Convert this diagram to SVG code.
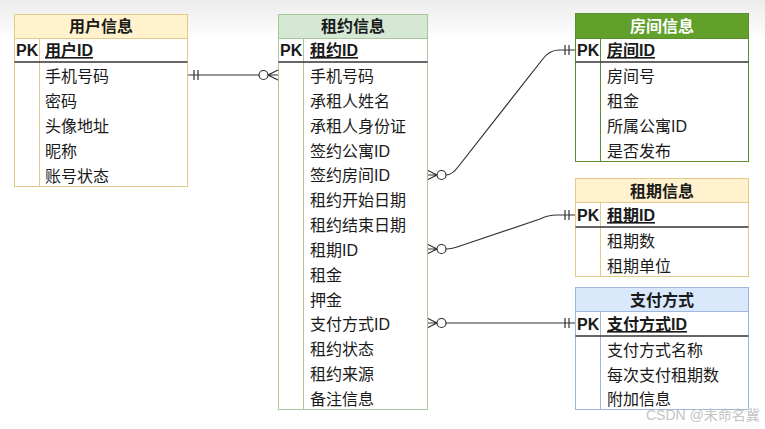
<svg xmlns="http://www.w3.org/2000/svg" xmlns:xlink="http://www.w3.org/1999/xlink" width="765" height="429" viewBox="0 0 765 429">
<style>
  .t { font-family: "Liberation Sans", "Noto Sans CJK SC", sans-serif; font-size: 16px; fill: #1a1a1a; }
  .h { font-weight: bold; text-anchor: middle; }
  .pk { font-weight: bold; }
  .u { font-weight: bold; text-decoration: underline; }
  .sep { stroke: #333; stroke-width: 1.5; }
  .conn { fill: none; stroke: #333; stroke-width: 1.2; }
  .wm { font-family: "Liberation Sans", "Noto Sans CJK SC", sans-serif; font-size: 14px; fill: #c4c4c4; }
</style>
<defs>
  <linearGradient id="bg" x1="0" y1="0" x2="0" y2="1">
    <stop offset="0" stop-color="#ececec"/>
    <stop offset="1" stop-color="#ffffff"/>
  </linearGradient>
  <g id="zeroMany" fill="none" stroke="#333" stroke-width="1.2">
    <path d="M0,-5 L10,0 L0,5 M0,0 L10,0"/>
    <circle cx="14.5" cy="0" r="4.5" fill="#fff"/>
  </g>
  <g id="mandOne" fill="none" stroke="#333" stroke-width="1.2">
    <path d="M-6,-5 L-6,5 M-10,-5 L-10,5"/>
  </g>
</defs>
<rect x="0" y="0" width="765" height="429" fill="#fff"/>
<rect x="0" y="0" width="765" height="40" fill="url(#bg)"/>

<g id="connectors">
  <path class="conn" d="M188,75 L259,75"/>
  <use xlink:href="#zeroMany" transform="translate(278,75) scale(-1,1)"/>
  <use xlink:href="#mandOne" transform="translate(188,75) scale(-1,1)"/>

  <path class="conn" d="M446,175 Q452,175 458,167 L542,60 Q549,50 559,50 L575,50"/>
  <use xlink:href="#zeroMany" transform="translate(427,175)"/>
  <use xlink:href="#mandOne" transform="translate(575,50)"/>

  <path class="conn" d="M446,249 Q452,249 460,246 L540,219 Q548,215 557,215 L575,215"/>
  <use xlink:href="#zeroMany" transform="translate(427,249)"/>
  <use xlink:href="#mandOne" transform="translate(575,215)"/>

  <path class="conn" d="M446,323 L575,323"/>
  <use xlink:href="#zeroMany" transform="translate(427,323)"/>
  <use xlink:href="#mandOne" transform="translate(575,323)"/>
</g>

<g id="user">
  <rect x="14.5" y="14.5" width="173" height="172" fill="#fff" stroke="#e6c98a"/>
  <rect x="14.5" y="14.5" width="173" height="24" fill="#fff2cc" stroke="#e6c98a"/>
  <line x1="39.5" y1="38.5" x2="39.5" y2="186.5" stroke="#e6c98a"/>
  <line class="sep" x1="14.5" y1="62" x2="187.5" y2="62"/>
  <text class="t h" x="101" y="32">用户信息</text>
  <text class="t pk" x="16" y="56">PK</text>
  <text class="t u" x="45" y="56">用户ID</text>
  <text class="t" x="45" y="82">手机号码</text>
  <text class="t" x="45" y="107">密码</text>
  <text class="t" x="45" y="132">头像地址</text>
  <text class="t" x="45" y="157">昵称</text>
  <text class="t" x="45" y="182">账号状态</text>
</g>

<g id="lease">
  <rect x="278.5" y="14.5" width="149" height="395" fill="#fff" stroke="#a9c79a"/>
  <rect x="278.5" y="14.5" width="149" height="24" fill="#d5e8d4" stroke="#a9c79a"/>
  <line x1="303.5" y1="38.5" x2="303.5" y2="409.5" stroke="#a9c79a"/>
  <line class="sep" x1="278.5" y1="62" x2="427.5" y2="62"/>
  <text class="t h" x="353" y="32">租约信息</text>
  <text class="t pk" x="280" y="56">PK</text>
  <text class="t u" x="310" y="56">租约ID</text>
  <text class="t" x="310" y="82">手机号码</text>
  <text class="t" x="310" y="107">承租人姓名</text>
  <text class="t" x="310" y="132">承租人身份证</text>
  <text class="t" x="310" y="157">签约公寓ID</text>
  <text class="t" x="310" y="181">签约房间ID</text>
  <text class="t" x="310" y="206">租约开始日期</text>
  <text class="t" x="310" y="231">租约结束日期</text>
  <text class="t" x="310" y="256">租期ID</text>
  <text class="t" x="310" y="281">租金</text>
  <text class="t" x="310" y="306">押金</text>
  <text class="t" x="310" y="330">支付方式ID</text>
  <text class="t" x="310" y="355">租约状态</text>
  <text class="t" x="310" y="380">租约来源</text>
  <text class="t" x="310" y="405">备注信息</text>
</g>

<g id="room">
  <rect x="575.5" y="13.5" width="173" height="148" fill="#fff" stroke="#5b8f2d"/>
  <rect x="575.5" y="13.5" width="173" height="25" fill="#62a02c" stroke="#5b8f2d"/>
  <line x1="600.5" y1="38.5" x2="600.5" y2="161.5" stroke="#5b8f2d"/>
  <line class="sep" x1="575.5" y1="62" x2="748.5" y2="62"/>
  <text class="t h" x="662" y="32" style="fill:#fff">房间信息</text>
  <text class="t pk" x="577" y="56">PK</text>
  <text class="t u" x="607" y="56">房间ID</text>
  <text class="t" x="607" y="82">房间号</text>
  <text class="t" x="607" y="107">租金</text>
  <text class="t" x="607" y="132">所属公寓ID</text>
  <text class="t" x="607" y="157">是否发布</text>
</g>

<g id="period">
  <rect x="575.5" y="178.5" width="173" height="98" fill="#fff" stroke="#e6c98a"/>
  <rect x="575.5" y="178.5" width="173" height="24" fill="#fff2cc" stroke="#e6c98a"/>
  <line x1="600.5" y1="202.5" x2="600.5" y2="276.5" stroke="#e6c98a"/>
  <line class="sep" x1="575.5" y1="227" x2="748.5" y2="227"/>
  <text class="t h" x="662" y="197">租期信息</text>
  <text class="t pk" x="577" y="221">PK</text>
  <text class="t u" x="607" y="221">租期ID</text>
  <text class="t" x="607" y="247">租期数</text>
  <text class="t" x="607" y="272">租期单位</text>
</g>

<g id="payment">
  <rect x="575.5" y="287.5" width="173" height="122" fill="#fff" stroke="#9db7dd"/>
  <rect x="575.5" y="287.5" width="173" height="24" fill="#dae8fc" stroke="#9db7dd"/>
  <line x1="600.5" y1="311.5" x2="600.5" y2="409.5" stroke="#9db7dd"/>
  <line class="sep" x1="575.5" y1="336" x2="748.5" y2="336"/>
  <text class="t h" x="662" y="306">支付方式</text>
  <text class="t pk" x="577" y="330">PK</text>
  <text class="t u" x="607" y="330">支付方式ID</text>
  <text class="t" x="607" y="356">支付方式名称</text>
  <text class="t" x="607" y="381">每次支付租期数</text>
  <text class="t" x="607" y="405">附加信息</text>
</g>

<text class="wm" x="646" y="420">CSDN @未命名冀</text>
</svg>
